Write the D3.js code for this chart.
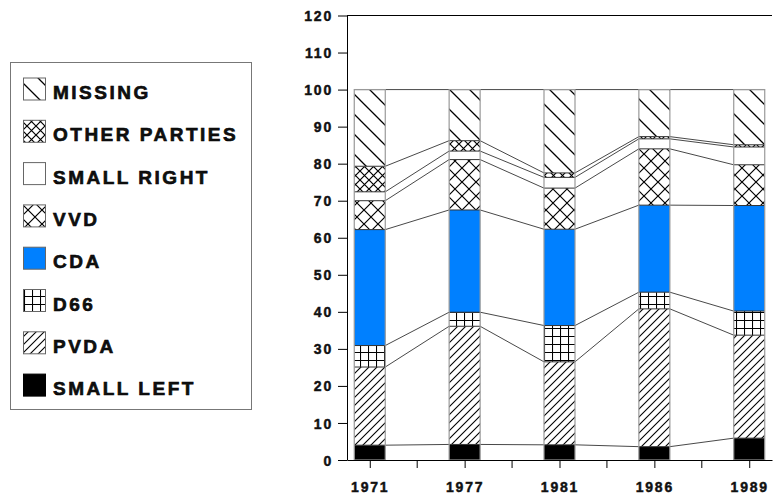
<!DOCTYPE html>
<html><head><meta charset="utf-8">
<script src="https://cdn.jsdelivr.net/npm/d3@7"></script>
<style>
html,body{margin:0;padding:0;background:#fff;}
text{font-family:"Liberation Sans",Arial,sans-serif;font-weight:bold;fill:#111;}
</style></head>
<body><svg id="c" width="773" height="498"></svg>
<script>
const years = ["1971","1977","1981","1986","1989"];
const parties = ["SMALL LEFT","PVDA","D66","CDA","VVD","SMALL RIGHT","OTHER PARTIES","MISSING"];
const smallLeft   = [4.0, 4.2, 4.1, 3.6, 5.9];
const pvda        = [21.1, 31.9, 22.4, 37.2, 27.8];
const d66         = [5.8, 3.8, 9.8, 4.5, 6.5];
const cda         = [31.3, 27.6, 26.0, 23.5, 28.5];
const vvd         = [7.8, 13.6, 11.1, 15.2, 11.0];
const smallRight  = [2.4, 2.3, 2.9, 2.7, 4.8];
const otherParties= [6.9, 2.8, 1.2, 0.6, 0.6];
const missing     = [20.7, 13.8, 22.5, 12.7, 14.9];
const yTicks = [0,10,20,30,40,50,60,70,80,90,100,110,120];

const series = [smallLeft,pvda,d66,cda,vvd,smallRight,otherParties,missing];
const fills = ["#000","url(#pPvda)","url(#pD66)","#0080ff","url(#pVvd)","#fff","url(#pOther)","url(#pMiss)"];

const svg = d3.select("#c");
const defs = svg.append("defs");
function pat(id, size, d, sw){
  const p = defs.append("pattern").attr("id",id).attr("patternUnits","userSpaceOnUse")
    .attr("width",size).attr("height",size);
  p.append("rect").attr("width",size).attr("height",size).attr("fill","#fff");
  p.append("path").attr("d",d).attr("stroke","#000").attr("stroke-width",sw).attr("fill","none");
}
pat("pMiss",20,"M0,0L20,20M-5,15L5,25M15,-5L25,5",1.3);
pat("pPvda",8,"M0,8L8,0M-2,2L2,-2M6,10L10,6",1.1);
pat("pD66",8,"M0,0.5H8M0.5,0V8",1.1);
pat("pVvd",14,"M0,0L14,14M14,0L0,14",1.2);
pat("pOther",9,"M0,0L9,9M9,0L0,9",1.2);

const L=347, R=772, T=15.5, B=460;
const y = d3.scaleLinear().domain([0,120]).range([B,T]);
const x = d3.scalePoint().domain(years).range([L,R]).padding(0.24);
const bw = 31;

const stack = years.map((yr,i)=>{
  let c=0; return series.map((s,k)=>{const y0=c; c+=s[i]; return {k,y0,y1:c};});
});

const g = svg.append("g");
for(let i=0;i<years.length-1;i++){
  for(let k=0;k<series.length;k++){
    g.append("line")
      .attr("x1",x(years[i])+bw/2).attr("x2",x(years[i+1])-bw/2)
      .attr("y1",y(stack[i][k].y1)).attr("y2",y(stack[i+1][k].y1))
      .attr("stroke","#333").attr("stroke-width",0.9);
  }
}
years.forEach((yr,i)=>{
  const bg = svg.append("g");
  stack[i].forEach(s=>{
    bg.append("rect").attr("x",x(yr)-bw/2).attr("width",bw)
      .attr("y",y(s.y1)).attr("height",y(s.y0)-y(s.y1))
      .attr("fill",fills[s.k]);
  });
  stack[i].forEach(s=>{
    bg.append("line").attr("x1",x(yr)-bw/2).attr("x2",x(yr)+bw/2)
      .attr("y1",y(s.y1)).attr("y2",y(s.y1)).attr("stroke","#333").attr("stroke-width",1);
  });
  bg.append("rect").attr("x",x(yr)-bw/2).attr("width",bw)
    .attr("y",y(100)).attr("height",y(0)-y(100))
    .attr("fill","none").attr("stroke","#999").attr("stroke-width",1.2);
});

const ya = svg.append("g").attr("transform",`translate(${L},0)`)
  .call(d3.axisLeft(y).tickValues(yTicks).tickSize(9).tickPadding(5).tickSizeOuter(0));
ya.select(".domain").attr("stroke","#000");
ya.selectAll(".tick line").attr("stroke","#000");
ya.selectAll("text").style("font-size","14px").style("letter-spacing","1.8px").attr("dy","0.36em")
  .attr("fill","#111").attr("stroke","#111").attr("stroke-width",0.45);

const xa = svg.append("g").attr("transform",`translate(0,${B})`)
  .call(d3.axisBottom(x).tickSize(8).tickPadding(14).tickSizeOuter(0));
xa.select(".domain").attr("stroke","#000");
xa.selectAll(".tick line").attr("stroke","#000");
xa.selectAll("text").style("font-size","14px").style("letter-spacing","1.8px")
  .attr("fill","#111").attr("stroke","#111").attr("stroke-width",0.45);
for(let i=0;i<years.length-1;i++){
  const mx=(x(years[i])+x(years[i+1]))/2;
  svg.append("line").attr("x1",mx).attr("x2",mx).attr("y1",B).attr("y2",B+8).attr("stroke","#000");
}
svg.append("line").attr("x1",L).attr("x2",R).attr("y1",T).attr("y2",T).attr("stroke","#000");

const lg = svg.append("g");
lg.append("rect").attr("x",10.5).attr("y",62.5).attr("width",241).attr("height",347)
  .attr("fill","none").attr("stroke","#777");
const legOrder = parties.map((p,k)=>k).reverse();
legOrder.forEach((k,j)=>{
  const top = 78 + j*42.3;
  lg.append("rect").attr("x",23.5).attr("y",top).attr("width",22).attr("height",22)
    .attr("fill",fills[k]).attr("stroke", k===0?"#000":"#666").attr("stroke-width",1);
  lg.append("text").attr("x",53).attr("y",top+21).text(parties[k])
    .style("font-size","19px").style("letter-spacing","2.5px")
    .attr("fill","#000").attr("stroke","#000").attr("stroke-width",0.6);
});
</script></body></html>
